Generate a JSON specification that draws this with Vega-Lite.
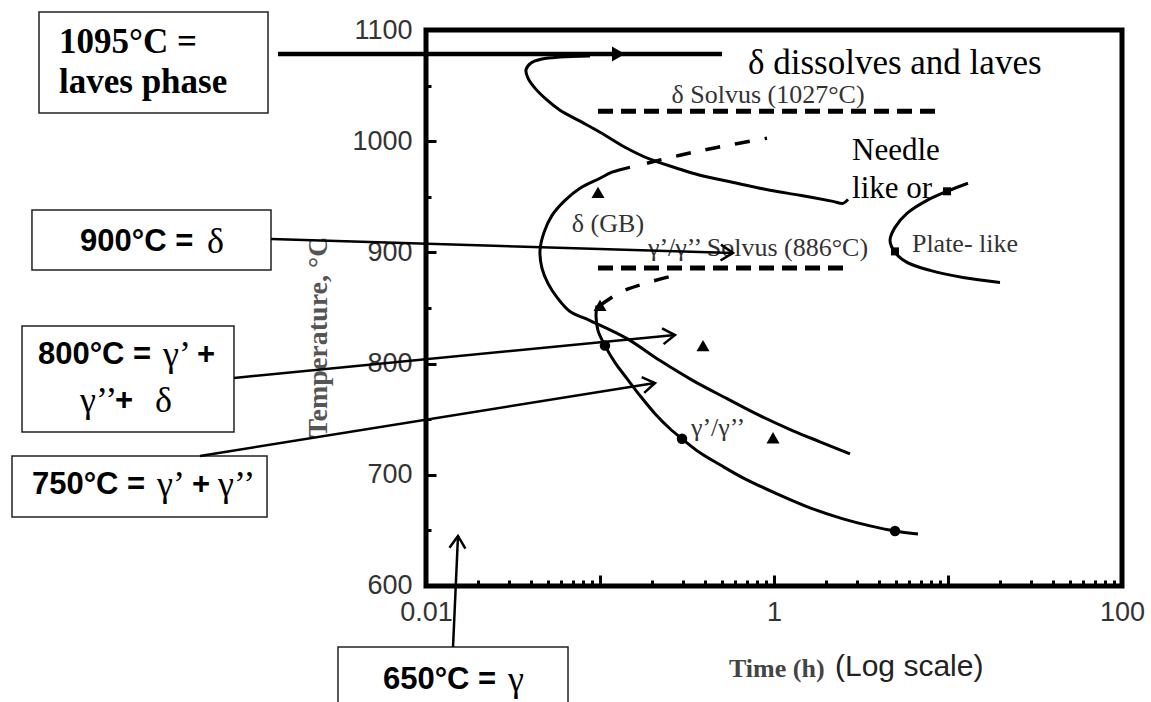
{
  "$schema": "https://vega.github.io/schema/vega-lite/v6.json",
  "width": 1151,
  "height": 702,
  "autosize": {"type": "none"},
  "padding": 0,
  "background": "white",
  "config": {"view": {"stroke": null}},
  "datasets": {
    "frame": [{"t": 0.01, "t2": 100, "T": 600, "T2": 1100}],
    "boxes": [
      {"name": "1095", "t": 5.969e-5, "t2": 1.236e-3, "T": 1025.4, "T2": 1116.2},
      {"name": "900", "t": 5.438e-5, "t2": 1.286e-3, "T": 884.2, "T2": 938.1},
      {"name": "800", "t": 4.767e-5, "t2": 7.878e-4, "T": 738.5, "T2": 833.8},
      {"name": "750", "t": 4.175e-5, "t2": 1.22e-3, "T": 662.05, "T2": 716.9},
      {"name": "650", "t": 3.12e-3, "t2": 0.06549, "T": 494, "T2": 545.1}
    ],
    "solvus": [
      {"s": "delta", "t": 0.0974, "T": 1027},
      {"s": "delta", "t": 8.87, "T": 1027},
      {"s": "gamma", "t": 0.0974, "T": 886},
      {"s": "gamma", "t": 2.56, "T": 886}
    ],
    "ext": [
      {"s": "e1", "t": 0.1862, "T": 980.2},
      {"s": "e1", "t": 0.2883, "T": 987.4},
      {"s": "e1", "t": 0.4461, "T": 993.7},
      {"s": "e1", "t": 0.9116, "T": 1002.7},
      {"s": "e2", "t": 0.1, "T": 852.3},
      {"s": "e2", "t": 0.1303, "T": 864.0},
      {"s": "e2", "t": 0.1814, "T": 872.1},
      {"s": "e2", "t": 0.296, "T": 881.1}
    ],
    "curves": [
      {"s": "c1", "t": 0.1487, "T": 976.6},
      {"s": "c1", "t": 0.1172, "T": 972.1},
      {"s": "c1", "t": 0.1, "T": 966.7},
      {"s": "c1", "t": 0.07675, "T": 957.7},
      {"s": "c1", "t": 0.06294, "T": 946.8},
      {"s": "c1", "t": 0.05298, "T": 933.3},
      {"s": "c1", "t": 0.04767, "T": 918.0},
      {"s": "c1", "t": 0.04521, "T": 901.8},
      {"s": "c1", "t": 0.04642, "T": 885.6},
      {"s": "c1", "t": 0.05024, "T": 872.1},
      {"s": "c1", "t": 0.05661, "T": 859.5},
      {"s": "c1", "t": 0.06723, "T": 846.8},
      {"s": "c1", "t": 0.0876, "T": 838.7},
      {"s": "c1", "t": 0.143, "T": 822.5},
      {"s": "c1", "t": 0.2212, "T": 802.7},
      {"s": "c1", "t": 0.3423, "T": 784.7},
      {"s": "c1", "t": 0.5371, "T": 768.5},
      {"s": "c1", "t": 0.8307, "T": 753.2},
      {"s": "c1", "t": 1.286, "T": 739.6},
      {"s": "c1", "t": 1.838, "T": 729.7},
      {"s": "c1", "t": 2.734, "T": 718.9},
      {"s": "c2", "t": 0.09612, "T": 852.3},
      {"s": "c2", "t": 0.09484, "T": 843.2},
      {"s": "c2", "t": 0.09739, "T": 829.7},
      {"s": "c2", "t": 0.1068, "T": 816.2},
      {"s": "c2", "t": 0.122, "T": 800.9},
      {"s": "c2", "t": 0.143, "T": 786.5},
      {"s": "c2", "t": 0.1698, "T": 771.2},
      {"s": "c2", "t": 0.2071, "T": 754.95},
      {"s": "c2", "t": 0.2525, "T": 741.4},
      {"s": "c2", "t": 0.296, "T": 732.4},
      {"s": "c2", "t": 0.3755, "T": 719.8},
      {"s": "c2", "t": 0.4896, "T": 709.0},
      {"s": "c2", "t": 0.6634, "T": 697.3},
      {"s": "c2", "t": 1.04, "T": 682.9},
      {"s": "c2", "t": 1.61, "T": 670.3},
      {"s": "c2", "t": 2.493, "T": 660.4},
      {"s": "c2", "t": 3.562, "T": 654.1},
      {"s": "c2", "t": 4.96, "T": 649.5},
      {"s": "c2", "t": 6.723, "T": 646.8},
      {"s": "c3", "t": 13.03, "T": 962.2},
      {"s": "c3", "t": 9.87, "T": 954.95},
      {"s": "c3", "t": 7.574, "T": 946.8},
      {"s": "c3", "t": 5.812, "T": 935.1},
      {"s": "c3", "t": 4.96, "T": 922.5},
      {"s": "c3", "t": 4.642, "T": 910.8},
      {"s": "c3", "t": 4.96, "T": 900.0},
      {"s": "c3", "t": 5.812, "T": 891.0},
      {"s": "c3", "t": 7.884, "T": 883.8},
      {"s": "c3", "t": 12.2, "T": 877.5},
      {"s": "c3", "t": 19.9, "T": 873.0},
      {"s": "c4", "t": 0.0876, "T": 1076.6},
      {"s": "c4", "t": 0.0589, "T": 1075.7},
      {"s": "c4", "t": 0.04642, "T": 1073.9},
      {"s": "c4", "t": 0.04012, "T": 1070.3},
      {"s": "c4", "t": 0.03755, "T": 1064.0},
      {"s": "c4", "t": 0.03856, "T": 1056.8},
      {"s": "c4", "t": 0.0423, "T": 1047.7},
      {"s": "c4", "t": 0.04894, "T": 1037.8},
      {"s": "c4", "t": 0.0589, "T": 1027.9},
      {"s": "c4", "t": 0.07675, "T": 1018.0},
      {"s": "c4", "t": 0.1, "T": 1008.1},
      {"s": "c4", "t": 0.1392, "T": 994.6},
      {"s": "c4", "t": 0.1938, "T": 983.8},
      {"s": "c4", "t": 0.2883, "T": 974.8},
      {"s": "c4", "t": 0.3755, "T": 969.4},
      {"s": "c4", "t": 0.6129, "T": 962.2},
      {"s": "c4", "t": 0.9484, "T": 955.9},
      {"s": "c4", "t": 1.411, "T": 951.4},
      {"s": "c4", "t": 2.183, "T": 945.9},
      {"s": "c4", "t": 2.493, "T": 944.1},
      {"s": "c4", "t": 2.663, "T": 947.7}
    ],
    "arrows": [
      {"name": "900", "t": 1.286e-3, "T": 912.05, "t2": 0.5811, "T2": 899.5},
      {"name": "800", "t": 7.878e-4, "T": 787.05, "t2": 0.2698, "T2": 825.7},
      {"name": "750", "t": 5.024e-4, "T": 716.9, "t2": 0.2071, "T2": 782.55},
      {"name": "650", "t": 0.0143, "T": 545.1, "t2": 0.01527, "T2": 645.0}
    ],
    "bigArrow": [{"t": 1.411e-3, "T": 1078.4, "t2": 0.5026, "T2": 1078.4}],
    "bigHead": [{"t": 0.1277, "T": 1078.4}],
    "tri": [
      {"t": 0.09739, "T": 954.05},
      {"t": 0.1, "T": 852.3},
      {"t": 0.3908, "T": 816.2},
      {"t": 0.987, "T": 733.3}
    ],
    "circ": [
      {"t": 0.1068, "T": 816.2},
      {"t": 0.296, "T": 732.4},
      {"t": 4.96, "T": 649.5}
    ],
    "sq": [
      {"t": 9.87, "T": 954.95},
      {"t": 4.96, "T": 900.9}
    ],
    "boldSerif": [
      {"label": "1095°C =", "t": 7.778e-5, "T": 1088.8},
      {"label": "laves phase", "t": 7.778e-5, "T": 1052.8}
    ],
    "boxSans": [
      {"label": "900°C =", "t": 1.027e-4, "T": 909.4},
      {"label": "800°C =", "t": 5.89e-5, "T": 807.7},
      {"label": "+", "t": 4.83e-4, "T": 807.7},
      {"label": "+", "t": 1.632e-4, "T": 766.5},
      {"label": "750°C =", "t": 5.438e-5, "T": 690.7},
      {"label": "+", "t": 4.521e-4, "T": 690.7},
      {"label": "650°C =", "t": 5.661e-3, "T": 515.5}
    ],
    "boxGreek": [
      {"label": "δ", "t": 5.512e-4, "T": 909.4},
      {"label": "γ’", "t": 3.08e-4, "T": 807.7},
      {"label": "γ’’", "t": 1.027e-4, "T": 766.5},
      {"label": "δ", "t": 2.77e-4, "T": 766.5},
      {"label": "γ’", "t": 2.845e-4, "T": 690.7},
      {"label": "γ’’", "t": 6.375e-4, "T": 690.7},
      {"label": "γ", "t": 0.0296, "T": 515.5}
    ],
    "plotLabels": [
      {"label": "δ Solvus (1027°C)", "t": 0.9237, "T": 1041.5},
      {"label": "γ’/γ’’ Solvus (886°C)", "t": 0.809, "T": 904.0},
      {"label": "δ (GB)", "t": 0.1111, "T": 925.5},
      {"label": "γ’/γ’’", "t": 0.4767, "T": 742.1},
      {"label": "Plate- like", "t": 12.52, "T": 907.9}
    ],
    "needle": [
      {"label": "Needle", "t": 2.808, "T": 991.2},
      {"label": "like or", "t": 2.808, "T": 957.0}
    ],
    "dissolves": [{"label": "δ dissolves and laves", "t": 0.7089, "T": 1070.5}],
    "ytitle": [{"label": "Temperature, °C", "t": 2.411e-3, "T": 823.9}],
    "xtitle": [{"label": "Time (h)", "t": 0.5511, "T": 525.4}],
    "xtitle2": [{"label": "(Log scale)", "t": 2.242, "T": 527.0}]
  },
  "encoding": {
    "x": {"field": "t", "type": "quantitative", "scale": {"type": "log", "domain": [3.5622e-5, 146.78], "nice": false}, "axis": null},
    "y": {"field": "T", "type": "quantitative", "scale": {"type": "linear", "domain": [495.68, 1126.98], "nice": false, "zero": false}, "axis": null}
  },
  "resolve": {"axis": {"x": "independent", "y": "independent"}},
  "layer": [
    {
      "data": {"name": "boxes"},
      "mark": {"type": "rect", "fill": "white", "stroke": "#222", "strokeWidth": 1.5},
      "encoding": {"x2": {"field": "t2"}, "y2": {"field": "T2"}}
    },
    {
      "data": {"name": "frame"},
      "mark": {"type": "rect", "fill": "transparent", "stroke": "black", "strokeWidth": 5},
      "encoding": {
        "x": {"field": "t", "type": "quantitative", "scale": {"type": "log", "domain": [3.5622e-5, 146.78], "nice": false},
          "axis": {"orient": "bottom", "offset": -116, "values": [0.01, 1, 100], "format": "~g", "ticks": false, "domain": false, "grid": false, "title": null,
            "labelFont": "Liberation Sans, Arial, sans-serif", "labelFontSize": 27, "labelColor": "#333", "labelPadding": 26, "labelBaseline": "middle", "labelFlush": false, "labelOverlap": false, "labelAngle": 0}},
        "x2": {"field": "t2"},
        "y": {"field": "T", "type": "quantitative", "scale": {"type": "linear", "domain": [495.68, 1126.98], "nice": false, "zero": false},
          "axis": {"orient": "left", "offset": -425, "values": [600, 700, 800, 900, 1000, 1100], "format": "d", "ticks": false, "domain": false, "grid": false, "title": null,
            "labelFont": "Liberation Sans, Arial, sans-serif", "labelFontSize": 27, "labelColor": "#333", "labelPadding": 13, "labelFlush": false, "labelOverlap": false}},
        "y2": {"field": "T2"}
      }
    },
    {
      "data": {"name": "solvus"},
      "mark": {"type": "line", "stroke": "black", "strokeWidth": 5, "strokeDash": [15, 8]},
      "encoding": {
        "x": {"field": "t", "type": "quantitative", "scale": {"type": "log", "domain": [3.5622e-5, 146.78], "nice": false},
          "axis": {"orient": "top", "offset": -586, "values": [0.01, 0.1, 1, 10, 100], "ticks": true, "tickSize": 11, "tickWidth": 3, "tickColor": "black", "labels": false, "domain": false, "grid": false, "title": null}},
        "y": {"field": "T", "type": "quantitative", "scale": {"type": "linear", "domain": [495.68, 1126.98], "nice": false, "zero": false},
          "axis": {"orient": "right", "offset": -726, "values": [600, 700, 800, 900, 1000, 1100], "ticks": true, "tickSize": 11, "tickWidth": 3, "tickColor": "black", "labels": false, "domain": false, "grid": false, "title": null}},
        "detail": {"field": "s"},
        "order": {"value": null}
      }
    },
    {
      "data": {"name": "ext"},
      "mark": {"type": "line", "stroke": "black", "strokeWidth": 3.5, "strokeDash": [15, 15], "interpolate": "catmull-rom"},
      "encoding": {"detail": {"field": "s"}, "order": {"value": null}}
    },
    {
      "data": {"name": "curves"},
      "mark": {"type": "line", "stroke": "black", "strokeWidth": 3, "interpolate": "catmull-rom"},
      "encoding": {"detail": {"field": "s"}, "order": {"value": null}}
    },
    {
      "data": {"name": "ytitle"},
      "mark": {"type": "text", "font": "Liberation Serif, Times New Roman, serif", "fontWeight": "bold", "fontSize": 28, "color": "#555", "angle": 270, "align": "center", "baseline": "middle"},
      "encoding": {"text": {"field": "label"}}
    },
    {
      "data": {"name": "xtitle"},
      "mark": {"type": "text", "font": "Liberation Serif, Times New Roman, serif", "fontWeight": "bold", "fontSize": 26, "color": "#444", "align": "left", "baseline": "middle"},
      "encoding": {"text": {"field": "label"}}
    },
    {
      "data": {"name": "xtitle2"},
      "mark": {"type": "text", "font": "Liberation Sans, Arial, sans-serif", "fontSize": 30, "color": "#222", "align": "left", "baseline": "middle"},
      "encoding": {"text": {"field": "label"}}
    },
    {
      "data": {"name": "plotLabels"},
      "mark": {"type": "text", "font": "Liberation Serif, Times New Roman, serif", "fontSize": 26, "color": "#333", "align": "center", "baseline": "middle"},
      "encoding": {"text": {"field": "label"}}
    },
    {
      "data": {"name": "needle"},
      "mark": {"type": "text", "font": "Liberation Serif, Times New Roman, serif", "fontSize": 31, "color": "black", "align": "left", "baseline": "middle"},
      "encoding": {"text": {"field": "label"}}
    },
    {
      "data": {"name": "dissolves"},
      "mark": {"type": "text", "font": "Liberation Serif, Times New Roman, serif", "fontSize": 35, "color": "black", "align": "left", "baseline": "middle"},
      "encoding": {"text": {"field": "label"}}
    },
    {
      "data": {"name": "boldSerif"},
      "mark": {"type": "text", "font": "Liberation Serif, Times New Roman, serif", "fontWeight": "bold", "fontSize": 35, "color": "black", "align": "left", "baseline": "middle"},
      "encoding": {"text": {"field": "label"}}
    },
    {
      "data": {"name": "boxSans"},
      "mark": {"type": "text", "font": "Liberation Sans, Arial, sans-serif", "fontWeight": "bold", "fontSize": 31, "color": "black", "align": "left", "baseline": "middle"},
      "encoding": {"text": {"field": "label"}}
    },
    {
      "data": {"name": "boxGreek"},
      "mark": {"type": "text", "font": "Liberation Serif, Times New Roman, serif", "fontSize": 36, "color": "black", "align": "left", "baseline": "middle"},
      "encoding": {"text": {"field": "label"}}
    },
    {
      "data": {"name": "arrows"},
      "mark": {"type": "rule", "stroke": "black", "strokeWidth": 2.5},
      "encoding": {"x2": {"field": "t2"}, "y2": {"field": "T2"}}
    },
    {
      "data": {"name": "bigArrow"},
      "mark": {"type": "rule", "stroke": "black", "strokeWidth": 4.5},
      "encoding": {"x2": {"field": "t2"}, "y2": {"field": "T2"}}
    },
    {
      "data": {"name": "bigHead"},
      "mark": {"type": "point", "shape": "triangle-right", "size": 225, "filled": true, "color": "black", "opacity": 1}
    },
    {
      "data": {"values": [{"t": 0.5811, "T": 899.5}]},
      "mark": {"type": "point", "shape": "M -1 -0.65 L 0 0 L -1 0.65", "size": 600, "filled": false, "stroke": "black", "strokeWidth": 2.5, "opacity": 1, "angle": 1.74}
    },
    {
      "data": {"values": [{"t": 0.2698, "T": 825.7}]},
      "mark": {"type": "point", "shape": "M -1 -0.65 L 0 0 L -1 0.65", "size": 600, "filled": false, "stroke": "black", "strokeWidth": 2.5, "opacity": 1, "angle": -5.57}
    },
    {
      "data": {"values": [{"t": 0.2071, "T": 782.55}]},
      "mark": {"type": "point", "shape": "M -1 -0.65 L 0 0 L -1 0.65", "size": 600, "filled": false, "stroke": "black", "strokeWidth": 2.5, "opacity": 1, "angle": -9.11}
    },
    {
      "data": {"values": [{"t": 0.01527, "T": 645.0}]},
      "mark": {"type": "point", "shape": "M -1 -0.65 L 0 0 L -1 0.65", "size": 600, "filled": false, "stroke": "black", "strokeWidth": 2.5, "opacity": 1, "angle": -87.4}
    },
    {
      "data": {"name": "tri"},
      "mark": {"type": "point", "shape": "triangle-up", "size": 170, "filled": true, "color": "black", "opacity": 1},
      "encoding": {
        "x": {"field": "t", "type": "quantitative", "scale": {"type": "log", "domain": [3.5622e-5, 146.78], "nice": false},
          "axis": {"orient": "top", "offset": -586, "values": [0.02, 0.03, 0.04, 0.05, 0.06, 0.07, 0.08, 0.09, 0.2, 0.3, 0.4, 0.5, 0.6, 0.7, 0.8, 0.9, 2, 3, 4, 5, 6, 7, 8, 9, 20, 30, 40, 50, 60, 70, 80, 90], "ticks": true, "tickSize": 6, "tickWidth": 3, "tickColor": "black", "labels": false, "domain": false, "grid": false, "title": null}},
        "y": {"field": "T", "type": "quantitative", "scale": {"type": "linear", "domain": [495.68, 1126.98], "nice": false, "zero": false},
          "axis": {"orient": "right", "offset": -726, "values": [650, 750, 850, 950, 1050], "ticks": true, "tickSize": 6, "tickWidth": 3, "tickColor": "black", "labels": false, "domain": false, "grid": false, "title": null}}
      }
    },
    {
      "data": {"name": "circ"},
      "mark": {"type": "point", "shape": "circle", "size": 110, "filled": true, "color": "black", "opacity": 1}
    },
    {
      "data": {"name": "sq"},
      "mark": {"type": "point", "shape": "square", "size": 64, "filled": true, "color": "black", "opacity": 1}
    }
  ]
}
